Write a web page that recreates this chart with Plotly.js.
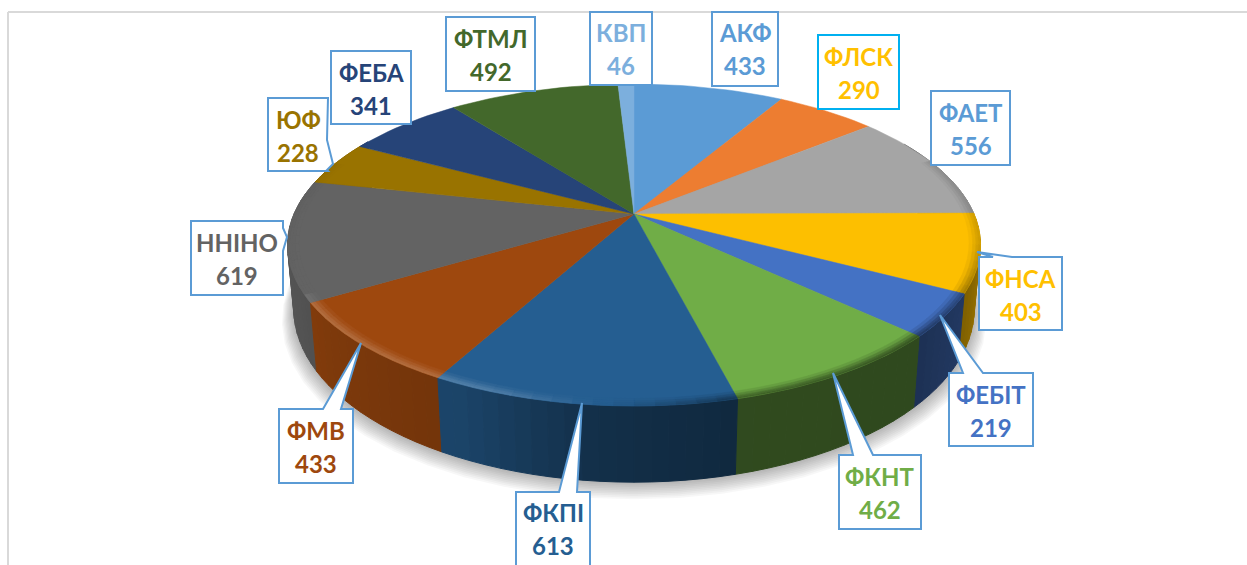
<!DOCTYPE html>
<html><head><meta charset="utf-8">
<script src="https://cdn.plot.ly/plotly-3.0.1.min.js"></script>
<style>html,body{margin:0;padding:0;background:#fff}#c{width:1247px;height:565px}</style>
</head><body><div id="c"></div>
<script>
// ---- data (clockwise from 12 o'clock) ----
const categories = ['АКФ','ФЛСК','ФАЕТ','ФНСА','ФЕБІТ','ФКНТ','ФКПІ','ФМВ','ННІНО','ЮФ','ФЕБА','ФТМЛ','КВП'];
const values     = [433,290,556,403,219,462,613,433,619,228,341,492,46];
// ---- styles ----
const sliceColors = ['#5b9bd5','#ed7d31','#a5a5a5','#fdbf00','#4472c4','#70ad47','#255e91','#9e480e','#636363','#997300','#264478','#43682b','#7cafdd'];
const textColors  = ['#5b9bd5','#ffc000','#5b9bd5','#ffc000','#4472c4','#70ad47','#255e91','#9e480e','#636363','#997300','#264478','#43682b','#7cafdd'];
// ---- callout layout: box [l,t,r,b], tail [base1x, base1y, tipx, tipy, base2x, base2y] ----
const boxes = {
 'АКФ':[712,12,778,86,null],
 'ФЛСК':[818,35,899,109,null],
 'ФАЕТ':[931,91,1010,165,null],
 'ФНСА':[979,257,1062,330,[993,257,977,252,1012,257]],
 'ФЕБІТ':[949,373,1033,446,[963,373,940,315,983,373]],
 'ФКНТ':[839,455,921,529,[853,455,833,373,873,455]],
 'ФКПІ':[516,492,590,580,[559,492,582,403,577,492]],
 'ФМВ':[279,409,353,483,[323,409,361,343,341,409]],
 'ННІНО':[191,221,283,295,[283,228,287,237,283,251]],
 'ЮФ':[268,98,328,171,[327,140,333,164,327,170]],
 'ФЕБА':[331,51,411,124,null],
 'ФТМЛ':[446,17,535,91,null],
 'КВП':[590,12,652,85,null]
};
const TOP = {cx:634,cy:214,R:340,A:155,k:0.1925};
const BOT = {cx:634,cy:276,R:334,A:167,k:0.19};
const rad = d=>d*Math.PI/180;
function proj(g,th,rho){const u=rho*Math.sin(rad(th)),v=rho*Math.cos(rad(th)),d=1+g.k*v;
  return [g.cx+g.R*u/d, g.cy-g.A*v/d];}
function lerp(a,b,t){return a+(b-a)*t}
function wallPt(th,t){const a=proj(TOP,th,1),b=proj(BOT,th,1);return [lerp(a[0],b[0],t),lerp(a[1],b[1],t)];}
function hex(c){return [1,3,5].map(i=>parseInt(c.substr(i,2),16));}
function mix(c,target,f){const h=hex(c);return 'rgb('+h.map(x=>Math.round(x+(target-x)*f)).join(',')+')';}
function scale(c,f){const h=hex(c);return 'rgb('+h.map(x=>Math.round(x*f)).join(',')+')';}
function pw(th,tab){for(let i=0;i<tab.length-1;i++){if(th<=tab[i+1][0]){const t=(th-tab[i][0])/(tab[i+1][0]-tab[i][0]);return lerp(tab[i][1],tab[i+1][1],Math.max(0,t));}}return tab[tab.length-1][1];}
const wallShade=[[60,.62],[100,.62],[118,.5],[135,.42],[165,.43],[185,.5],[205,.72],[240,.82],[262,.88],[300,.88]];
const rimShade =[[60,-.12],[100,-.18],[135,-.5],[165,-.42],[182,-.05],[200,.2],[238,.2],[242,0],[300,-.05]];
function rimColor(c,th,f){const s=pw(th,rimShade)*f;return s>=0?mix(c,255,s):mix(c,0,-s);}

const total=values.reduce((a,b)=>a+b,0);
const spans=[];let cum=0;values.forEach((v,i)=>{const a=cum/total*360;cum+=v;spans.push([a,cum/total*360]);});
function arc(a,b,step){const n=Math.max(1,Math.ceil((b-a)/step)),o=[];for(let i=0;i<=n;i++)o.push(a+(b-a)*i/n);return o;}
function poly(pts,color,name){return {type:'scatter',mode:'lines',x:pts.map(p=>p[0]),y:pts.map(p=>p[1]),fill:'toself',fillcolor:color,
  line:{color:color,width:name?0:1},hoverinfo:name?'text':'skip',text:name||'',showlegend:false};}
const traces=[];
// soft shadow
for(let i=10;i>=1;i--){const pts=arc(0,360,6).map(t=>{const p=proj(BOT,t,1);return [p[0]+(p[0]-634)*i*0.0035,p[1]+i*1.1+(p[1]-276)*i*0.003];});
  const tr=poly(pts,'rgba(0,0,0,0.03)');tr.line.width=0;traces.push(tr);}
// walls
const walls=[];
categories.forEach((c,i)=>{const col=sliceColors[i];const [a,b]=spans[i];
  const th=arc(a,b,2.5);
  for(let j=0;j<th.length-1;j++){const t0=th[j],t1=th[j+1],m=(t0+t1)/2;
    if(m<60||m>300)continue;
    const q=(u,w)=>[wallPt(t0,u),wallPt(t1,u),wallPt(t1,w),wallPt(t0,w),wallPt(t0,u)];
    walls.push({k:Math.cos(rad(m)),tr:poly(q(0,1),scale(col,pw(m,wallShade)))});
  }
});
walls.sort((p,q)=>q.k-p.k).forEach(w=>traces.push(w.tr));
// top faces
categories.forEach((c,i)=>{const [a,b]=spans[i];const pts=[[TOP.cx,TOP.cy]].concat(arc(a,b,2).map(t=>proj(TOP,t,1)));pts.push([TOP.cx,TOP.cy]);
  const tr=poly(pts,sliceColors[i],c+': '+values[i]);tr.line={color:sliceColors[i],width:0.5};traces.push(tr);});
// bevel: graded bands just inside the rim
const bands=[[.968,.978,.2],[.978,.987,.5],[.987,.994,.8],[.994,1,1]];
categories.forEach((c,i)=>{const [a,b]=spans[i];const th=arc(a,b,3);
  for(let j=0;j<th.length-1;j++){const t0=th[j],t1=th[j+1],m=(t0+t1)/2;if(m<70||m>290)continue;
    const ring=(r0,r1)=>[proj(TOP,t0,r0),proj(TOP,t1,r0),proj(TOP,t1,r1),proj(TOP,t0,r1),proj(TOP,t0,r0)];
    bands.forEach(bd=>{const tr=poly(ring(bd[0],bd[1]),rimColor(sliceColors[i],m,bd[2]));tr.line.width=0.5;traces.push(tr);});
  }});
// callouts & labels
const shapes=[
 {type:'line',x0:8,x1:8,y0:12,y1:565,line:{color:'#d9d9d9',width:2},layer:'below'},
 {type:'line',x0:8,x1:1247,y0:12,y1:12,line:{color:'#d9d9d9',width:2},layer:'below'}];
const annotations=[];
const FS=24, FF='Lato, "Open Sans", sans-serif';
categories.forEach((c,i)=>{const b=boxes[c];const [l,t,r,bt,tail]=b;
  let d;
  if(tail){
    const [ax,ay,tx,ty,cx,cy]=tail;
    if(ay===t&&cy===t) d=`M${l},${t}L${ax},${ay}L${tx},${ty}L${cx},${cy}L${r},${t}L${r},${bt}L${l},${bt}Z`;
    else d=`M${l},${t}L${r},${t}L${ax},${ay}L${tx},${ty}L${cx},${cy}L${r},${bt}L${l},${bt}Z`;
  } else d=`M${l},${t}L${r},${t}L${r},${bt}L${l},${bt}Z`;
  const border=c==='ФЛСК'?'#00b0f0':'#5b9bd5';
  shapes.push({type:'path',path:d,fillcolor:'#ffffff',line:{color:border,width:2},layer:'above'});
  const mx=(l+r)/2, cyc=c==='ФКПІ'?529:(t===12?49:(t+bt)/2+1);
  annotations.push({x:mx,y:cyc-16.5,text:'<b>'+c+'</b>',showarrow:false,font:{family:FF,size:FS,color:textColors[i]},xanchor:'center',yanchor:'middle'});
  annotations.push({x:mx,y:cyc+16.5,text:'<b>'+values[i]+'</b>',showarrow:false,font:{family:FF,size:FS,color:textColors[i]},xanchor:'center',yanchor:'middle'});
});
Plotly.newPlot('c',traces,{width:1247,height:565,margin:{l:0,r:0,t:0,b:0},paper_bgcolor:'#fff',plot_bgcolor:'#fff',showlegend:false,
  xaxis:{range:[0,1247],visible:false,fixedrange:true},yaxis:{range:[565,0],visible:false,fixedrange:true},shapes,annotations},{displayModeBar:false,staticPlot:true});
</script></body></html>
